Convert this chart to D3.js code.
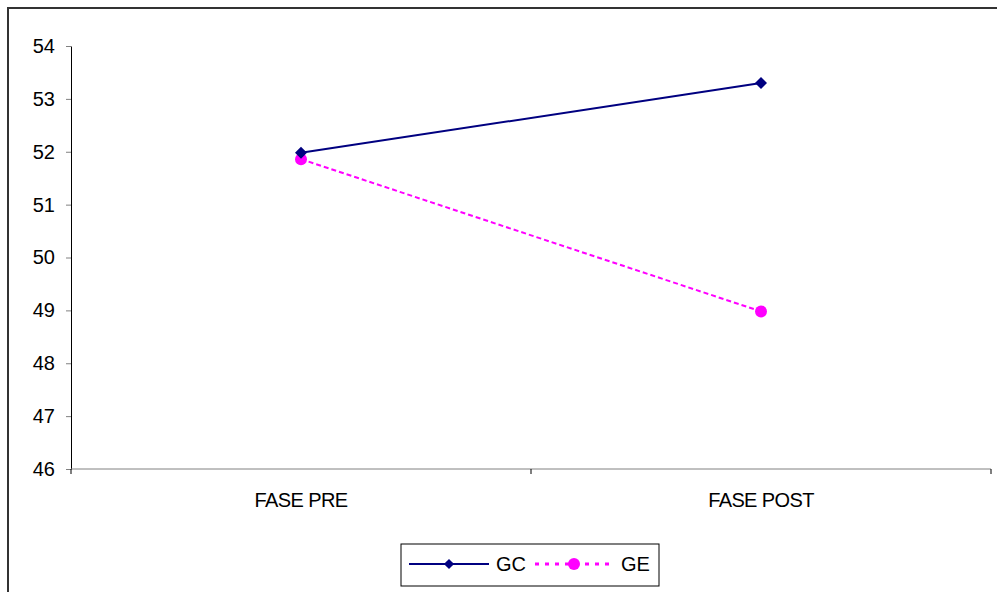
<!DOCTYPE html>
<html>
<head>
<meta charset="utf-8">
<script src="https://cdn.jsdelivr.net/npm/d3@7"></script>
<style>
body { margin: 0; background: #fff; }
svg text { font-family: "Liberation Sans", Arial, sans-serif; }
</style>
</head>
<body>
<svg id="chart" width="997" height="592"></svg>
<script>
// data
const categories = ["FASE PRE", "FASE POST"];
const seriesNames = ["GC", "GE"];
const gcValues = [51.98, 53.3];
const geValues = [51.86, 48.98];
const yTicks = [46, 47, 48, 49, 50, 51, 52, 53, 54];

const svg = d3.select("#chart");

// outer frame
svg.append("rect")
	.attr("x", 8).attr("y", 8)
	.attr("width", 1000).attr("height", 600)
	.attr("fill", "none")
	.attr("stroke", "#333")
	.attr("stroke-width", 2);

const plotLeft = 71, plotRight = 991, plotTop = 46, plotBottom = 469;

const x = d3.scaleBand().domain(categories).range([plotLeft, plotRight]);
const y = d3.scaleLinear().domain([46, 54]).range([plotBottom, plotTop]);

// y axis
const yAxisG = svg.append("g")
	.attr("transform", `translate(${plotLeft},0)`)
	.attr("font-size", 20)
	.call(d3.axisLeft(y).tickValues(yTicks).tickSize(5).tickSizeOuter(0).tickFormat(d3.format("d")));
yAxisG.attr("font-size", 20);
yAxisG.select(".domain").attr("stroke", "#000");
yAxisG.selectAll(".tick line").attr("stroke", "#808080");
yAxisG.selectAll(".tick text")
	.attr("x", -16)
	.style("font-size", "20px")
	.attr("fill", "#000");

// x axis
const xAxisG = svg.append("g")
	.attr("transform", `translate(0,${plotBottom})`);
xAxisG.append("line")
	.attr("x1", plotLeft).attr("x2", plotRight)
	.attr("stroke", "#808080")
	.attr("stroke-width", 1);
const xBounds = [plotLeft, plotLeft + x.bandwidth(), plotRight];
xAxisG.selectAll(".xtick")
	.data(xBounds)
	.enter()
	.append("line")
	.attr("class", "xtick")
	.attr("x1", d => d).attr("x2", d => d)
	.attr("y1", 0).attr("y2", 5)
	.attr("stroke", "#000");
xAxisG.selectAll(".xlabel")
	.data(categories)
	.enter()
	.append("text")
	.attr("class", "xlabel")
	.attr("x", d => x(d) + x.bandwidth() / 2)
	.attr("y", 38)
	.attr("text-anchor", "middle")
	.style("font-size", "20px")
	.style("letter-spacing", "-0.6px")
	.text(d => d);

const cx = d => x(d) + x.bandwidth() / 2;
const line = d3.line()
	.x((d, i) => cx(categories[i]))
	.y(d => y(d));

// GE series (dotted magenta)
svg.append("path")
	.attr("d", line(geValues))
	.attr("fill", "none")
	.attr("stroke", "#ff00ff")
	.attr("stroke-width", 2)
	.attr("stroke-dasharray", "5,3");

// GC series (navy)
svg.append("path")
	.attr("d", line(gcValues))
	.attr("fill", "none")
	.attr("stroke", "#000080")
	.attr("stroke-width", 2);

svg.selectAll(".gePt")
	.data(geValues)
	.enter()
	.append("circle")
	.attr("class", "gePt")
	.attr("cx", (d, i) => cx(categories[i]))
	.attr("cy", d => y(d))
	.attr("r", 6)
	.attr("fill", "#ff00ff");

const diamond = d3.symbol().type(d3.symbolDiamond2).size(92);
svg.selectAll(".gcPt")
	.data(gcValues)
	.enter()
	.append("path")
	.attr("class", "gcPt")
	.attr("d", diamond)
	.attr("transform", (d, i) => `translate(${cx(categories[i])},${y(d)})`)
	.attr("fill", "#000080");

// legend
const legend = svg.append("g").attr("transform", "translate(401,544)");
legend.append("rect")
	.attr("width", 258).attr("height", 42)
	.attr("fill", "#fff")
	.attr("stroke", "#000")
	.attr("stroke-width", 1);
legend.append("line")
	.attr("x1", 8).attr("x2", 88).attr("y1", 20).attr("y2", 20)
	.attr("stroke", "#000080").attr("stroke-width", 2);
legend.append("path")
	.attr("d", d3.symbol().type(d3.symbolDiamond2).size(66))
	.attr("transform", "translate(48,20)")
	.attr("fill", "#000080");
legend.append("text")
	.attr("x", 95).attr("y", 27)
	.style("font-size", "20px")
	.text(seriesNames[0]);
legend.append("line")
	.attr("x1", 134).attr("x2", 212).attr("y1", 20).attr("y2", 20)
	.attr("stroke", "#ff00ff").attr("stroke-width", 3)
	.attr("stroke-dasharray", "4,6");
legend.append("circle")
	.attr("cx", 173).attr("cy", 20).attr("r", 6)
	.attr("fill", "#ff00ff");
legend.append("text")
	.attr("x", 220).attr("y", 27)
	.style("font-size", "20px")
	.text(seriesNames[1]);
</script>
</body>
</html>
